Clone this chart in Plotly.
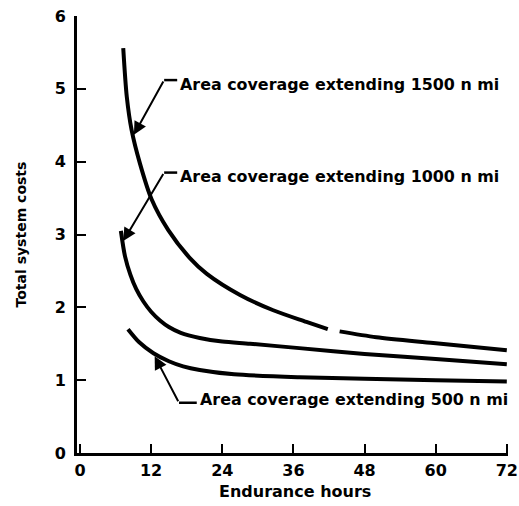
import plotly.graph_objects as go

# Endurance hours (x) and total system costs (y)
hours_1500 = [7.3, 7.9, 8.7, 10.1, 12.1, 14.9, 18.5, 21.4, 27.0, 32.6, 38.2, 41.8, None, 43.8, 50.0, 59.6, 72.0]
cost_1500 = [5.56, 4.89, 4.44, 3.98, 3.48, 3.06, 2.68, 2.46, 2.17, 1.96, 1.80, 1.70, None, 1.67, 1.59, 1.51, 1.41]

hours_1000 = [6.9, 7.6, 8.5, 9.5, 10.7, 12.0, 13.5, 15.0, 17.0, 20.2, 24.0, 28.7, 37.0, 48.0, 60.0, 72.0]
cost_1000 = [3.05, 2.70, 2.45, 2.25, 2.08, 1.94, 1.82, 1.73, 1.65, 1.58, 1.53, 1.50, 1.44, 1.36, 1.29, 1.22]

hours_500 = [8.1, 10.0, 12.4, 15.0, 17.4, 20.2, 26.0, 37.0, 48.0, 60.0, 72.0]
cost_500 = [1.70, 1.52, 1.37, 1.26, 1.19, 1.14, 1.08, 1.04, 1.02, 1.00, 0.98]

labels = ["Area coverage extending 1500 n mi",
          "Area coverage extending 1000 n mi",
          "Area coverage extending 500 n mi"]

x_ticks = [0, 12, 24, 36, 48, 60, 72]
y_ticks = [0, 1, 2, 3, 4, 5, 6]
x_title = "Endurance hours"
y_title = "Total system costs"

FONT = "DejaVu Sans"
BOLD = dict(family=FONT, color="black", weight="bold")

fig = go.Figure()
for hx, cy in [(hours_1500, cost_1500), (hours_1000, cost_1000), (hours_500, cost_500)]:
    fig.add_trace(go.Scatter(x=hx, y=cy, mode="lines",
                             line=dict(color="black", width=4, shape="spline", smoothing=0.8),
                             connectgaps=False, showlegend=False, hoverinfo="skip"))

# label placement (data units): tip of arrow, bend point, end of short dash, text left position
callouts = [
    dict(tip=(9.1, 4.37), bend=(14.2, 5.12), dash_end=(16.4, 5.12), text=(16.5, 5.06)),
    dict(tip=(7.3, 2.91), bend=(14.2, 3.85), dash_end=(16.4, 3.85), text=(16.5, 3.79)),
    dict(tip=(12.6, 1.33), bend=(16.7, 0.69), dash_end=(19.7, 0.69), text=(19.9, 0.73)),
]
for lab, c in zip(labels, callouts):
    fig.add_annotation(x=c["tip"][0], y=c["tip"][1], ax=c["bend"][0], ay=c["bend"][1],
                       xref="x", yref="y", axref="x", ayref="y", text="",
                       showarrow=True, arrowhead=2, arrowsize=1.3, arrowwidth=2,
                       arrowcolor="black", standoff=0, startstandoff=0)
    fig.add_shape(type="line", x0=c["bend"][0], y0=c["bend"][1], x1=c["dash_end"][0], y1=c["dash_end"][1],
                  xref="x", yref="y", line=dict(color="black", width=2.5))
    fig.add_annotation(x=c["text"][0], y=c["text"][1], xref="x", yref="y", text=lab,
                       showarrow=False, xanchor="left", yanchor="middle",
                       font=dict(size=15.9, **BOLD))

# axis titles
fig.add_annotation(x=0.506, y=-0.087, xref="paper", yref="paper", text=x_title, showarrow=False,
                   xanchor="center", yanchor="middle", font=dict(size=16, **BOLD))
fig.add_annotation(x=-0.13, y=0.5, xref="paper", yref="paper", text=y_title, showarrow=False,
                   textangle=-90, xanchor="center", yanchor="middle", font=dict(size=14, **BOLD))

fig.update_xaxes(range=[-0.5, 72.2], tickvals=x_ticks, ticks="inside", ticklen=9, tickwidth=2,
                 tickcolor="black", showline=True, linecolor="black", linewidth=3, showgrid=False,
                 zeroline=False, automargin=False, ticklabelstandoff=1,
                 tickfont=dict(size=16, **BOLD))
fig.update_yaxes(range=[0, 6], tickvals=y_ticks, ticks="inside", ticklen=9, tickwidth=2,
                 tickcolor="black", showline=True, linecolor="black", linewidth=3, showgrid=False,
                 zeroline=False, automargin=False, ticklabelstandoff=5,
                 tickfont=dict(size=16, **BOLD))
fig.update_layout(width=519, height=506, margin=dict(l=77, r=11, t=16, b=53),
                  plot_bgcolor="white", paper_bgcolor="white", showlegend=False)
fig.write_html("out.html", config={"displayModeBar": False},
               post_script="document.body.style.margin='0';")
